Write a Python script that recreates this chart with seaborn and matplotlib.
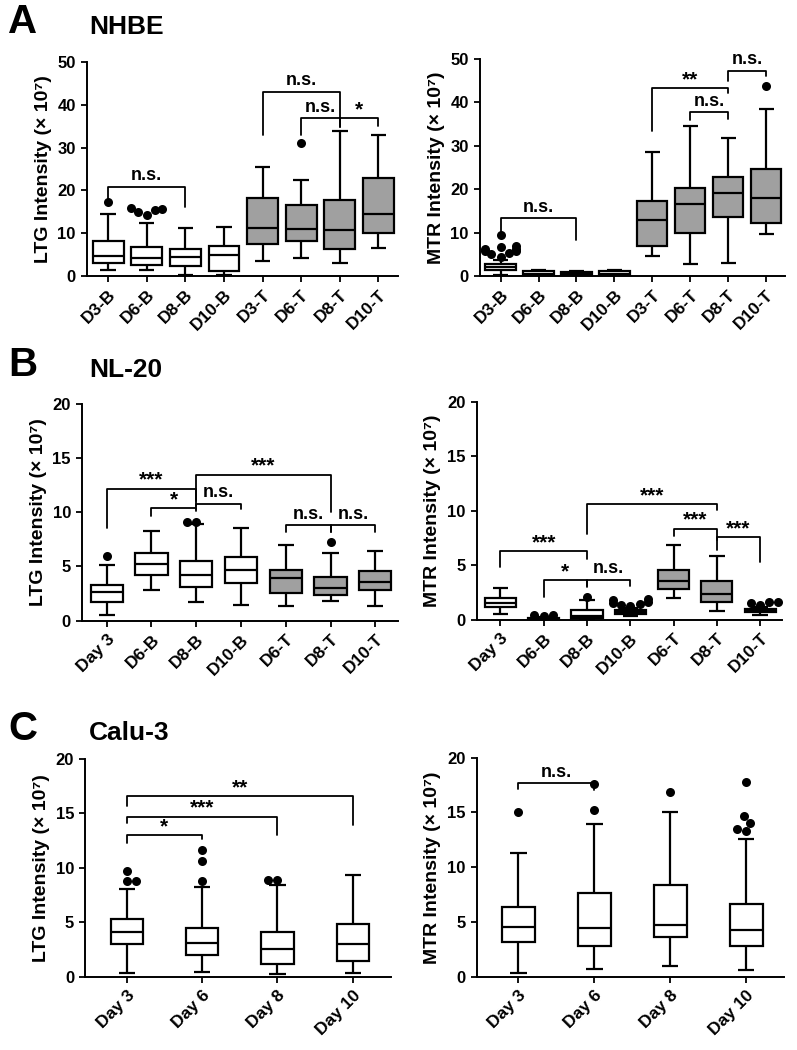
import numpy as np
import pandas as pd
import seaborn as sns
import matplotlib
matplotlib.use("Agg")
import matplotlib.pyplot as plt

sns.set_style("ticks")
plt.rcParams['font.family'] = ['Liberation Sans', 'DejaVu Sans']
plt.rcParams['font.weight'] = 'bold'
for k in ["text.color", "axes.labelcolor", "xtick.color", "ytick.color",
          "axes.edgecolor"]:
    plt.rcParams[k] = "black"

# ---------------- data ----------------
# each box: whisker low, Q1, median, Q3, whisker high (x 10^7)

# A - NHBE
nhbe_cats = ["D3-B", "D6-B", "D8-B", "D10-B", "D3-T", "D6-T", "D8-T", "D10-T"]
nhbe_fill = ["B", "B", "B", "B", "T", "T", "T", "T"]
nhbe_ltg = [
    [1.4, 3.0, 4.7, 8.3, 14.5],
    [1.4, 2.7, 4.2, 6.9, 12.5],
    [0.2, 2.4, 4.5, 6.3, 11.2],
    [0.2, 1.3, 4.9, 7.1, 11.5],
    [3.6, 7.4, 11.2, 18.3, 25.5],
    [4.3, 8.1, 11.1, 16.5, 22.5],
    [3.1, 6.3, 10.8, 17.7, 33.9],
    [6.5, 10.0, 14.5, 22.8, 33.0],
]
nhbe_ltg_out_cat = ["D3-B", "D6-B", "D6-B", "D6-B", "D6-B", "D6-B", "D6-T"]
nhbe_ltg_out_val = [17.3, 14.3, 14.9, 15.4, 15.9, 15.6, 31.0]
nhbe_mtr = [
    [0.15, 1.4, 2.15, 2.9, 3.8],
    [0.0, 0.15, 0.6, 1.15, 1.4],
    [0.0, 0.15, 0.6, 1.0, 1.15],
    [0.0, 0.15, 0.6, 1.1, 1.3],
    [4.6, 7.0, 12.9, 17.4, 28.5],
    [2.9, 10.0, 16.6, 20.2, 34.6],
    [3.1, 13.5, 19.2, 22.9, 31.8],
    [9.6, 12.3, 17.9, 24.6, 38.5],
]
nhbe_mtr_out_cat = ["D3-B"] * 10 + ["D10-T"]
nhbe_mtr_out_val = [4.5, 5.0, 5.4, 5.9, 6.3, 6.6, 6.2, 5.7, 6.9, 9.5, 43.8]

# B - NL-20
nl20_cats = ["Day 3", "D6-B", "D8-B", "D10-B", "D6-T", "D8-T", "D10-T"]
nl20_fill = ["B", "B", "B", "B", "T", "T", "T"]
nl20_ltg = [
    [0.55, 1.7, 2.6, 3.25, 5.1],
    [2.8, 4.25, 5.2, 6.2, 8.3],
    [1.7, 3.1, 4.2, 5.5, 8.9],
    [1.4, 3.5, 4.65, 5.9, 8.6],
    [1.3, 2.55, 3.9, 4.65, 7.0],
    [1.8, 2.4, 3.0, 4.0, 6.2],
    [1.3, 2.85, 3.6, 4.55, 6.4],
]
nl20_ltg_out_cat = ["Day 3", "D8-B", "D8-B", "D8-T"]
nl20_ltg_out_val = [5.95, 9.15, 9.15, 7.3]
nl20_mtr = [
    [0.5, 1.15, 1.5, 2.0, 2.9],
    [0.0, 0.03, 0.08, 0.15, 0.25],
    [0.0, 0.15, 0.35, 0.85, 1.75],
    [0.3, 0.55, 0.7, 0.9, 1.1],
    [2.0, 2.8, 3.55, 4.6, 6.9],
    [0.75, 1.6, 2.35, 3.55, 5.85],
    [0.45, 0.7, 0.85, 1.0, 1.15],
]
nl20_mtr_out_cat = (["D6-B"] * 3 + ["D8-B"] + ["D10-B"] * 7 + ["D10-T"] * 4)
nl20_mtr_out_val = [0.35, 0.4, 0.45, 2.05,
                    1.2, 1.3, 1.4, 1.5, 1.6, 1.75, 1.9,
                    1.35, 1.55, 1.6, 1.65]

# C - Calu-3
calu_cats = ["Day 3", "Day 6", "Day 8", "Day 10"]
calu_fill = ["B", "B", "B", "B"]
calu_ltg = [
    [0.4, 3.05, 4.1, 5.3, 8.05],
    [0.5, 2.0, 3.15, 4.5, 8.2],
    [0.3, 1.15, 2.6, 4.15, 8.4],
    [0.4, 1.45, 3.05, 4.9, 9.35],
]
calu_ltg_out_cat = ["Day 3", "Day 3", "Day 3", "Day 6", "Day 6", "Day 6", "Day 8", "Day 8"]
calu_ltg_out_val = [9.7, 8.75, 8.75, 11.6, 10.65, 8.75, 8.9, 8.9]
calu_mtr = [
    [0.4, 3.2, 4.6, 6.4, 11.3],
    [0.75, 2.85, 4.45, 7.65, 13.95],
    [1.0, 3.65, 4.75, 8.35, 15.0],
    [0.65, 2.85, 4.3, 6.65, 12.6],
]
calu_mtr_out_cat = ["Day 3", "Day 6", "Day 6", "Day 8",
                    "Day 10", "Day 10", "Day 10", "Day 10", "Day 10"]
calu_mtr_out_val = [15.0, 15.25, 17.6, 16.9, 17.8, 14.65, 14.05, 13.3, 13.5]

# significance brackets: (from, to, bar height, left leg end, right leg end, label)
nhbe_ltg_sig = [
    ("D3-B", "D8-B", 20.8, 18.0, 16.1, "n.s."),
    ("D3-T", "D8-T", 43.0, 33.0, 35.3, "n.s."),
    ("D6-T", "D8-T", 36.8, 33.0, 34.9, "n.s."),
    ("D8-T", "D10-T", 36.8, 34.9, 35.0, "*"),
]
nhbe_mtr_sig = [
    ("D3-B", "D8-B", 13.3, 9.8, 8.3, "n.s."),
    ("D3-T", "D8-T", 43.2, 33.3, 42.2, "**"),
    ("D6-T", "D8-T", 37.7, 36.0, 36.2, "n.s."),
    ("D8-T", "D10-T", 47.3, 44.8, 46.0, "n.s."),
]
nl20_ltg_sig = [
    ("Day 3", "D8-B", 12.2, 8.6, 11.05, "***"),
    ("D6-B", "D8-B", 10.4, 9.7, 10.1, "*"),
    ("D8-B", "D8-T", 13.5, 10.6, 10.0, "***"),
    ("D8-B", "D10-B", 10.8, 10.3, 10.3, "n.s."),
    ("D6-T", "D8-T", 8.8, 8.2, 8.2, "n.s."),
    ("D8-T", "D10-T", 8.8, 8.2, 8.2, "n.s."),
]
nl20_mtr_sig = [
    ("Day 3", "D8-B", 6.3, 4.8, 5.6, "***"),
    ("D6-B", "D8-B", 3.65, 2.05, 3.05, "*"),
    ("D8-B", "D10-B", 3.65, 3.0, 3.05, "n.s."),
    ("D8-B", "D8-T", 10.6, 7.85, 10.05, "***"),
    ("D6-T", "D8-T", 8.35, 7.65, 7.35, "***"),
    ("D8-T", "D10-T", 7.6, 6.4, 5.3, "***"),
]
calu_ltg_sig = [
    ("Day 3", "Day 10", 16.55, 15.7, 13.95, "**"),
    ("Day 3", "Day 8", 14.7, 14.1, 13.0, "***"),
    ("Day 3", "Day 6", 13.0, 12.25, 12.6, "*"),
]
calu_mtr_sig = [
    ("Day 3", "Day 6", 17.65, 17.1, 17.0, "n.s."),
]

FILL = {"B": "white", "T": "#a0a0a0"}


def draw_panel(ax, cats, fill, boxes, out_cat, out_val, sig, ymax, ystep,
               ylabel, box_w):
    rows = []
    for c, f, b in zip(cats, fill, boxes):
        for v in b:
            rows.append({"cat": c, "fill": f, "val": v})
    df = pd.DataFrame(rows)
    sns.boxplot(data=df, x="cat", y="val", hue="fill", order=cats,
                palette=FILL, dodge=False, whis=(0, 100), width=box_w,
                linewidth=1.6, linecolor="black", legend=False, ax=ax)
    for ln in ax.lines:
        ln.set_solid_capstyle("butt")
    if out_val:
        odf = pd.DataFrame({"cat": out_cat, "val": out_val})
        sns.swarmplot(data=odf, x="cat", y="val", order=cats, color="black",
                      size=6.5, ax=ax)

    pos = {c: i for i, c in enumerate(cats)}
    for a, b, h, l1, l2, lab in sig:
        x1, x2 = pos[a], pos[b]
        ax.plot([x1, x1, x2, x2], [l1, h, h, l2], color="black", lw=1.3,
                clip_on=False)
        if lab == "n.s.":
            ax.text((x1 + x2) / 2, h + ymax * 0.012, lab, ha="center",
                    va="bottom", fontsize=13, fontweight="bold")
        else:
            ax.text((x1 + x2) / 2, h - ymax * 0.005, lab, ha="center",
                    va="bottom", fontsize=15, fontweight="bold")

    ax.set_xlim(-0.55, len(cats) - 0.5)
    ax.set_ylim(0, ymax)
    ax.set_yticks(np.arange(0, ymax + 0.1, ystep))
    ax.set_xlabel("")
    ax.set_ylabel(ylabel, fontsize=14, fontweight="bold", labelpad=4)
    ax.tick_params(axis="both", width=1.3, length=4.5, labelsize=12)
    ax.tick_params(axis="x", labelsize=12.5)
    plt.setp(ax.get_xticklabels(), rotation=45, ha="right",
             rotation_mode="anchor", fontweight="bold")
    plt.setp(ax.get_yticklabels(), fontweight="bold")
    for s in ["left", "bottom"]:
        ax.spines[s].set_linewidth(1.4)
    sns.despine(ax=ax)


fig = plt.figure(figsize=(7.97, 10.5), dpi=100)

LTG = "LTG Intensity (× 10⁷)"
MTR = "MTR Intensity (× 10⁷)"

ax1 = fig.add_axes([0.109, 0.737, 0.390, 0.204])
ax2 = fig.add_axes([0.602, 0.737, 0.383, 0.207])
ax3 = fig.add_axes([0.103, 0.409, 0.396, 0.206])
ax4 = fig.add_axes([0.598, 0.410, 0.383, 0.207])
ax5 = fig.add_axes([0.107, 0.0695, 0.383, 0.208])
ax6 = fig.add_axes([0.598, 0.0695, 0.386, 0.209])

draw_panel(ax1, nhbe_cats, nhbe_fill, nhbe_ltg, nhbe_ltg_out_cat,
           nhbe_ltg_out_val, nhbe_ltg_sig, 50, 10, LTG, 0.8)
draw_panel(ax2, nhbe_cats, nhbe_fill, nhbe_mtr, nhbe_mtr_out_cat,
           nhbe_mtr_out_val, nhbe_mtr_sig, 50, 10, MTR, 0.8)
draw_panel(ax3, nl20_cats, nl20_fill, nl20_ltg, nl20_ltg_out_cat,
           nl20_ltg_out_val, nl20_ltg_sig, 20, 5, LTG, 0.72)
draw_panel(ax4, nl20_cats, nl20_fill, nl20_mtr, nl20_mtr_out_cat,
           nl20_mtr_out_val, nl20_mtr_sig, 20, 5, MTR, 0.72)
draw_panel(ax5, calu_cats, calu_fill, calu_ltg, calu_ltg_out_cat,
           calu_ltg_out_val, calu_ltg_sig, 20, 5, LTG, 0.43)
draw_panel(ax6, calu_cats, calu_fill, calu_mtr, calu_mtr_out_cat,
           calu_mtr_out_val, calu_mtr_sig, 20, 5, MTR, 0.43)

# panel letters and cell line names
for y, letter, name in [(0.997, "A", "NHBE"), (0.670, "B", "NL-20"),
                        (0.324, "C", "Calu-3")]:
    fig.text(0.010, y, letter, fontsize=29, fontweight="bold", va="top")
    fig.text(0.112, y - 0.011, name, fontsize=19, fontweight="bold", va="top")

fig.savefig("out.png", dpi=100)
